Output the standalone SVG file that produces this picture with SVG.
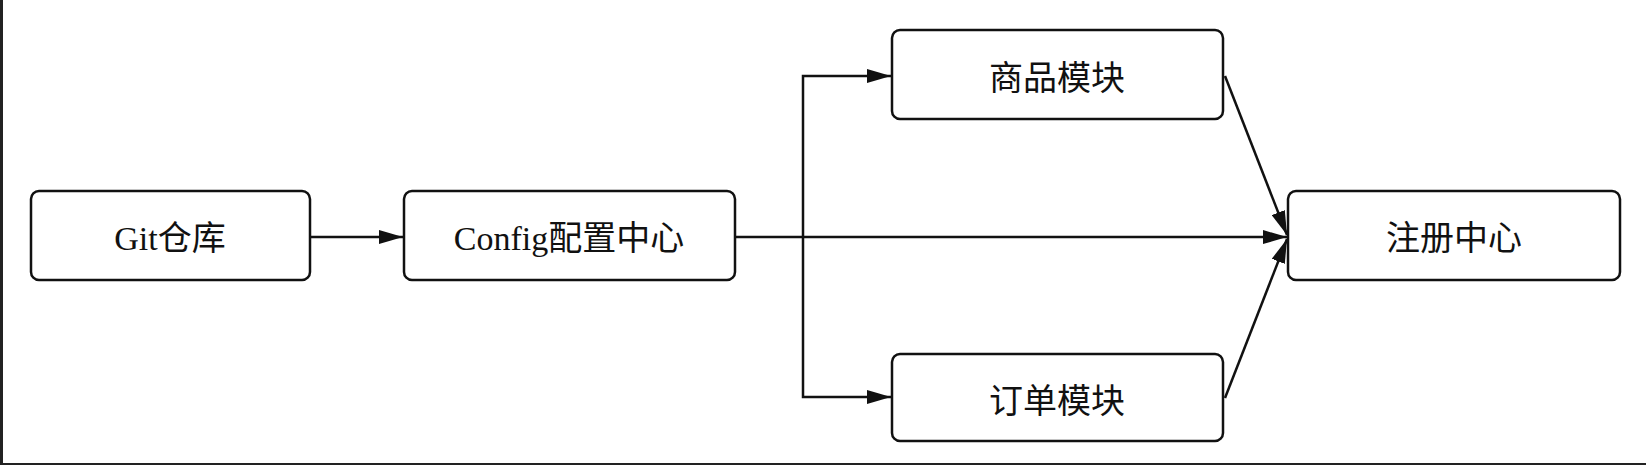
<svg xmlns="http://www.w3.org/2000/svg" width="1646" height="467" viewBox="0 0 1646 467">
<style>
.n rect{fill:#fff;stroke:#111;stroke-width:2.5}
.n text{font-family:"Liberation Serif","Noto Sans CJK SC",serif;font-size:34px;fill:#111;text-anchor:middle;dominant-baseline:central}
.c path{fill:none;stroke:#111;stroke-width:2.5}
</style>
<defs><marker id="b" viewBox="0 0 10 10" refX="10" refY="5" markerWidth="24" markerHeight="14" markerUnits="userSpaceOnUse" orient="auto" preserveAspectRatio="none"><path d="M0 0L10 5L0 10z" fill="#111"/></marker></defs>
<rect width="1646" height="467" fill="#fff"/>
<rect x="0" y="0" width="3" height="465" fill="#222"/>
<rect x="0" y="463" width="1646" height="2" fill="#222"/>
<g class="c">
<path d="M310 237H403" marker-end="url(#b)"/>
<path d="M735 237H1287" marker-end="url(#b)"/>
<path d="M803 237V76H891" marker-end="url(#b)"/>
<path d="M803 237V397H891" marker-end="url(#b)"/>
<path d="M1225 76L1287 235" marker-end="url(#b)"/>
<path d="M1225 398L1287 239" marker-end="url(#b)"/>
</g>
<g class="n" id="git"><rect x="31" y="191" width="279" height="89" rx="8"/><text x="170" y="238">Git仓库</text></g>
<g class="n" id="config"><rect x="404" y="191" width="331" height="89" rx="8"/><text x="569" y="238">Config配置中心</text></g>
<g class="n" id="goods"><rect x="892" y="30" width="331" height="89" rx="8"/><text x="1057" y="78">商品模块</text></g>
<g class="n" id="order"><rect x="892" y="354" width="331" height="87" rx="8"/><text x="1057" y="401">订单模块</text></g>
<g class="n" id="registry"><rect x="1288" y="191" width="332" height="89" rx="8"/><text x="1454" y="238">注册中心</text></g>
</svg>
